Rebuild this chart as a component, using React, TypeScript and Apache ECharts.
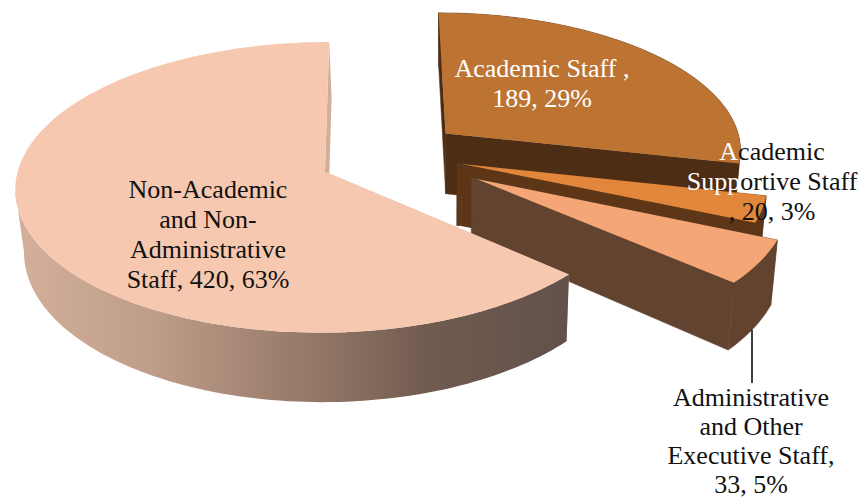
import React, { useEffect, useRef } from "react";
import * as echarts from "echarts";

// ---- data ----
const categories = ["Academic Staff", "Academic Supportive Staff", "Administrative and Other Executive Staff", "Non-Academic and Non-Administrative Staff"];
const values = [189, 20, 33, 420];
const topColors = ["#BD7433", "#E1863B", "#F4A676", "#F6C8AF"];
const sideColors = ["#4D2D14", "#5C3617", "#624330", "#D2AE98"];
// explode offsets of each slice on the pie's plane, and its radius, in radii
const explodeU = [0.396, 0.443, 0.487, 0];
const explodeV = [-0.26, -0.042, 0.062, 0.012];
const radii = [0.97, 0.98, 0.99, 0.99];

const W = 863;
const H = 499;
const FONT = '"Liberation Serif", serif';
const FONT_SIZE = 26;

// perspective camera of the 3D pie
const VX = 369, VY = -1170, CX = 325, CY = 170, F = 310, C = 0.108, T = 62, XV = 450, LEAN = 0.98;

function project(u: number, v: number, bottom: boolean): number[] {
  const z = 1 - C * v;
  let sx = VX + (CX - VX + F * u) / z;
  let sy = VY + (CY - VY) / z;
  if (bottom) {
    sy += T / z;
    sx = XV + (sx - XV) * LEAN;
  }
  return [sx, sy];
}

const total = values.reduce((a, b) => a + b, 0);
const starts: number[] = [];
values.reduce((acc, v, i) => {
  starts[i] = acc;
  return acc + (v / total) * Math.PI * 2;
}, 0);

function arc(i: number, bottom: boolean): number[][] {
  const a0 = starts[i];
  const a1 = a0 + (values[i] / total) * Math.PI * 2;
  const n = Math.max(8, Math.ceil((a1 - a0) * 40));
  const pts: number[][] = [];
  for (let k = 0; k <= n; k++) {
    const a = a0 + ((a1 - a0) * k) / n;
    pts.push(project(explodeU[i] + radii[i] * Math.sin(a), explodeV[i] - radii[i] * Math.cos(a), bottom));
  }
  return pts;
}

const sideGradient = new echarts.graphic.LinearGradient(0, 0, 1, 0, [
  { offset: 0, color: "#D4B09B" },
  { offset: 0.25, color: "#BE9D89" },
  { offset: 0.5, color: "#9A7C6B" },
  { offset: 0.75, color: "#705B4F" },
  { offset: 1, color: "#62504A" },
]);

function leftmostIndex(pts: number[][]): number {
  let best = 0;
  pts.forEach((p, k) => {
    if (p[0] < pts[best][0]) best = k;
  });
  return best;
}

function renderSlice(params: any) {
  const i = params.dataIndex;
  const top = arc(i, false);
  const bot = arc(i, true);
  const aTop = project(explodeU[i], explodeV[i], false);
  const aBot = project(explodeU[i], explodeV[i], true);
  const poly = (points: number[][], fill: any) => ({
    type: "polygon",
    shape: { points },
    style: { fill, stroke: i === 3 ? "none" : fill, lineWidth: 0.5 },
  });
  const children: any[] = [];
  // start cut face, end cut face, outer wall, top face
  children.push(poly([top[0], aTop, aBot, bot[0]], sideColors[i]));
  children.push(poly([top[top.length - 1], aTop, aBot, bot[bot.length - 1]], sideColors[i]));
  if (i === 1 || i === 2) {
    // hub edge that shows to the left of the thin wedges
    children.push(poly([aTop, [aTop[0] - 5, aTop[1] - 1], [aBot[0] - 5, aBot[1]], aBot], sideColors[i]));
  }
  if (i === 3) {
    // the big slice's wall: only its front, from the right end round to the left tangent
    const wallTop = top.slice(0, leftmostIndex(top) + 1);
    const wallBot = bot.slice(0, leftmostIndex(bot) + 1);
    children.push(poly([...wallTop, ...wallBot.reverse()], sideGradient));
  } else {
    children.push(poly([...top, ...bot.slice().reverse()], sideColors[i]));
  }
  children.push({
    type: "polygon",
    shape: { points: [aTop, ...top] },
    style: { fill: topColors[i] },
  });
  return { type: "group", children };
}

function text(x: number, y: number, t: string, fill: string, lineHeight: number, rich?: any) {
  return {
    type: "text",
    x,
    y,
    z: 100,
    style: {
      text: t,
      x: 0,
      y: 0,
      fill,
      fontFamily: FONT,
      fontSize: FONT_SIZE,
      align: "center",
      verticalAlign: "middle",
      lineHeight,
      rich,
    },
    silent: true,
  };
}

export default function App() {
  const ref = useRef<HTMLDivElement>(null);
  useEffect(() => {
    const chart = echarts.init(ref.current!, undefined, { renderer: "svg" });
    const spanStyle = (fill: string) => ({ fill, color: fill, fontFamily: FONT, fontSize: FONT_SIZE, lineHeight: 30 });
    chart.setOption({
      animation: false,
      backgroundColor: "#ffffff",
      series: [
        {
          type: "custom",
          coordinateSystem: "none",
          silent: true,
          clip: false,
          data: values.map((v, i) => ({ name: categories[i], value: [v] })),
          renderItem: renderSlice,
        },
      ],
      graphic: [
        text(208, 234.5, "Non-Academic\nand Non-\nAdministrative\nStaff, 420, 63%", "#111111", 30),
        text(542, 83.5, "Academic Staff ,\n189, 29%", "#ffffff", 30),
        text(772, 181, "{w|A}{k|cademic}\n{w|Supp}{k|ortive Staff}\n{k|, 20, 3%}", "#111111", 30, {
          w: spanStyle("#ffffff"),
          k: spanStyle("#111111"),
        }),
        text(751, 440.5, "Administrative\nand Other\nExecutive Staff,\n33, 5%", "#111111", 29),
        {
          type: "line",
          z: 100,
          shape: { x1: 752, y1: 330, x2: 752, y2: 383 },
          style: { stroke: "#000000", lineWidth: 1.5 },
          silent: true,
        },
      ],
    });
    return () => chart.dispose();
  }, []);
  return <div ref={ref} style={{ position: "fixed", left: 0, top: 0, width: W, height: H, background: "#fff" }} />;
}
